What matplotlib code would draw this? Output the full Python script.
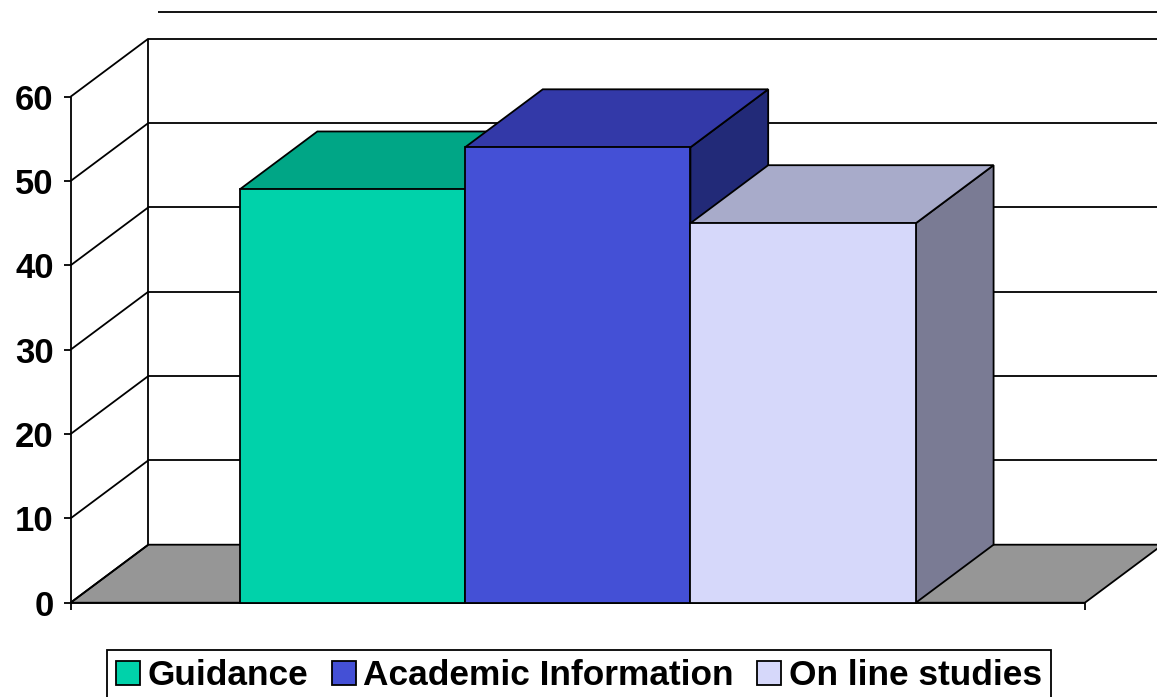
import matplotlib.pyplot as plt
from matplotlib.patches import Polygon, Patch

# data
categories = ["Guidance", "Academic Information", "On line studies"]
values = [49, 54, 45]
value_ticks = [0, 10, 20, 30, 40, 50, 60]

# colours per series: front, top, side
FRONT = ["#00D2AA", "#4450D6", "#D6D8FA"]
TOP = ["#00A686", "#3339A8", "#A8ABCA"]
SIDE = ["#00806A", "#222A78", "#7A7B94"]
FLOOR = "#969696"

# fake 3D geometry (category units / value units)
XMIN, XMAX = -1.25, 3.25
DX, DY = 0.345, 6.88
LW = 1.3

plt.rcParams['font.family'] = ['Liberation Sans', 'DejaVu Sans']

fig = plt.figure(figsize=(11.57, 6.97), dpi=100)
ax = fig.add_axes([0, 0, 1, 1])
ax.set_xlim(-1.563, 3.570)
ax.set_ylim(-11.18, 71.47)
ax.axis('off')


def poly(pts, fc, z):
    ax.add_patch(Polygon(pts, closed=True, facecolor=fc, edgecolor='black',
                         linewidth=LW, joinstyle='miter', zorder=z))


def line(xs, ys, z=2):
    ax.plot(xs, ys, color='black', lw=LW, solid_capstyle='butt', zorder=z)


top_v = value_ticks[-1]

# floor
poly([(XMIN, 0), (XMAX, 0), (XMAX + DX, DY), (XMIN + DX, DY)], FLOOR, 1)

# back wall gridlines and side wall diagonals
for v in value_ticks:
    if v > 0:
        line([XMIN + DX, XMAX + DX + 0.1], [v + DY, v + DY])
    line([XMIN, XMIN + DX], [v, v + DY])
    # tick marks on the value axis
    line([XMIN - 0.031, XMIN], [v, v])
    ax.text(XMIN - 0.075, v, str(v), ha='right', va='center_baseline',
            fontsize=25, fontweight='bold', zorder=5)

line([XMIN, XMIN], [0, top_v])
line([XMIN + DX, XMIN + DX], [DY, top_v + DY])
# plot area top border
line([XMIN + DX + 0.043, XMAX + DX + 0.5], [70.1, 70.1])

# front floor edge and end ticks
line([XMIN, XMAX], [0, 0], z=3)
line([XMIN, XMIN], [0, -0.9], z=3)
line([XMAX, XMAX], [0, -0.9], z=3)

# bars
for i, v in enumerate(values):
    x0, x1 = i - 0.5, i + 0.5
    z = 3 + i
    poly([(x1, 0), (x1 + DX, DY), (x1 + DX, v + DY), (x1, v)], SIDE[i], z)
    poly([(x0, v), (x1, v), (x1 + DX, v + DY), (x0 + DX, v + DY)], TOP[i], z)
    poly([(x0, 0), (x1, 0), (x1, v), (x0, v)], FRONT[i], z)

handles = [Patch(facecolor=c, edgecolor='black', linewidth=LW) for c in FRONT]
leg = fig.legend(handles, categories, loc='upper left',
                 bbox_to_anchor=(107 / 1157, 1 - 650 / 697), borderaxespad=0,
                 ncol=3, fancybox=False, framealpha=1, edgecolor='black',
                 handlelength=0.68, handleheight=0.68, handletextpad=0.22,
                 columnspacing=0.65, borderpad=0.26,
                 prop={'family': 'Liberation Sans', 'weight': 'bold', 'size': 25.4})
leg.get_frame().set_linewidth(LW)

fig.savefig("out.png", dpi=100, facecolor='white')
